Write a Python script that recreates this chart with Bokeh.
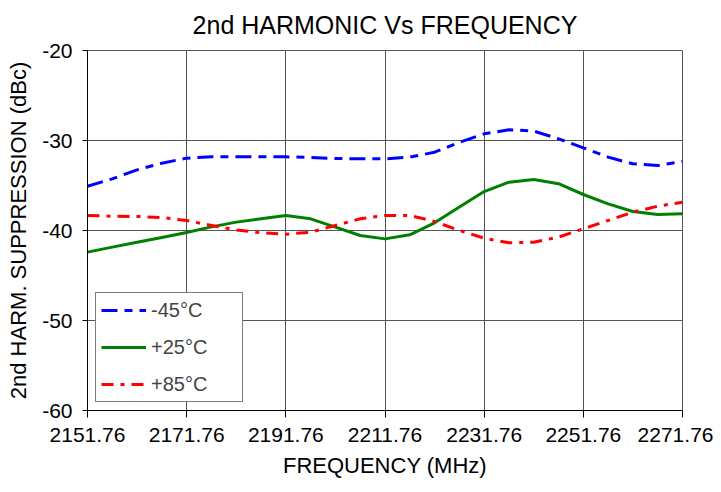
from bokeh.plotting import figure
from bokeh.models import FixedTicker, Legend, LegendItem, Range1d
from bokeh.embed import file_html
from bokeh.resources import INLINE

freq = [2151.76, 2156.76, 2161.76, 2166.76, 2171.76, 2176.76, 2181.76, 2186.76, 2191.76,
        2196.76, 2201.76, 2206.76, 2211.76, 2216.76, 2221.76, 2226.76, 2231.76, 2236.76,
        2241.76, 2246.76, 2251.76, 2256.76, 2261.76, 2266.76, 2271.76]
minus45 = [-35.08, -34.26, -33.26, -32.52, -31.96, -31.81, -31.81, -31.81, -31.81,
           -31.89, -32.00, -32.04, -32.04, -31.85, -31.30, -30.20, -29.26, -28.81,
           -28.95, -29.81, -30.81, -31.85, -32.59, -32.78, -32.33]
plus25 = [-42.40, -41.85, -41.30, -40.78, -40.22, -39.60, -39.07, -38.70, -38.33,
          -38.70, -39.63, -40.56, -40.93, -40.48, -39.15, -37.40, -35.67, -34.63,
          -34.33, -34.80, -36.00, -37.04, -37.89, -38.22, -38.15]
plus85 = [-38.33, -38.41, -38.44, -38.56, -38.89, -39.44, -39.93, -40.26, -40.41,
          -40.19, -39.44, -38.70, -38.33, -38.33, -39.00, -40.00, -40.85, -41.37,
          -41.30, -40.74, -39.81, -38.89, -37.96, -37.30, -36.85]
series_labels = ["-45°C", "+25°C", "+85°C"]
x_ticks = [2151.76, 2171.76, 2191.76, 2211.76, 2231.76, 2251.76, 2271.76]
y_ticks = [-60, -50, -40, -30, -20]

FONT = "Liberation Sans"

p = figure(width=713, height=484, output_backend="svg", toolbar_location=None,
           x_range=Range1d(2151.76, 2271.76), y_range=Range1d(-60, -20),
           title="2nd HARMONIC Vs FREQUENCY",
           min_border_left=87, min_border_right=31, min_border_top=0, min_border_bottom=74)

p.title.align = "center"
p.title.vertical_align = "top"
p.title.text_font = FONT
p.title.text_font_size = "25px"
p.title.text_font_style = "normal"
p.title.text_color = "black"
p.title.standoff = 20

p.xaxis.ticker = FixedTicker(ticks=x_ticks)
p.yaxis.ticker = FixedTicker(ticks=y_ticks)
p.xaxis.major_label_overrides = {t: f"{t:.2f}" for t in x_ticks}
p.yaxis.major_label_overrides = {t: f"{t}" for t in y_ticks}
p.xaxis.minor_tick_line_color = None
p.yaxis.minor_tick_line_color = None
for ax in (p.xaxis, p.yaxis):
    ax.axis_line_color = "black"
    ax.major_tick_line_color = "black"
    ax.major_tick_in = 0
    ax.major_label_text_font = FONT
    ax.major_label_text_font_size = "21px"
    ax.major_label_text_color = "black"
    ax.axis_label_text_font = FONT
    ax.axis_label_text_font_size = "22px"
    ax.axis_label_text_font_style = "normal"
    ax.axis_label_text_color = "black"
p.xaxis.major_tick_out = 7
p.yaxis.major_tick_out = 5
p.xaxis.major_label_standoff = 10
p.yaxis.major_label_standoff = 10
p.xaxis.axis_label = "FREQUENCY (MHz)"
p.yaxis.axis_label = "2nd HARM. SUPPRESSION (dBc)"
p.xaxis.axis_label_standoff = 8
p.yaxis.axis_label_standoff = 8

p.xgrid.grid_line_color = "#555555"
p.ygrid.grid_line_color = "#555555"
p.outline_line_color = "#555555"
p.background_fill_color = "white"
p.border_fill_color = "white"

r1 = p.line(freq, minus45, line_color="#0000FF", line_width=3, line_dash="16 7 8 7", line_join="round")
r2 = p.line(freq, plus25, line_color="#008000", line_width=3, line_join="round")
r3 = p.line(freq, plus85, line_color="#FF0000", line_width=3, line_dash="12 7 4 7", line_join="round")

legend = Legend(items=[LegendItem(label=series_labels[0], renderers=[r1]),
                       LegendItem(label=series_labels[1], renderers=[r2]),
                       LegendItem(label=series_labels[2], renderers=[r3])],
                location=(8, 8))
legend.label_text_font = FONT
legend.label_text_font_size = "20px"
legend.label_height = 24
legend.label_width = 86
legend.glyph_width = 45
legend.glyph_height = 24
legend.label_standoff = 5
legend.spacing = 13
legend.padding = 5
legend.margin = 0
legend.border_line_color = "black"
legend.border_line_width = 1
legend.background_fill_alpha = 1
p.add_layout(legend, "center")

open("out.html", "w").write(file_html(p, INLINE))
